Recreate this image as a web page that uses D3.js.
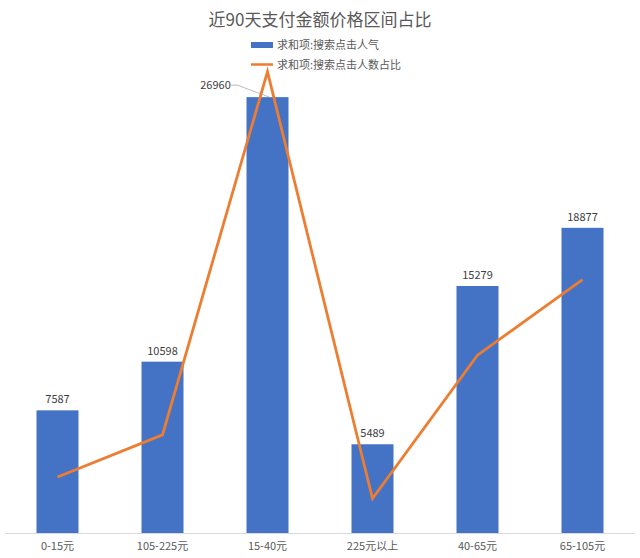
<!DOCTYPE html>
<html>
<head>
<meta charset="utf-8">
<script src="https://cdn.jsdelivr.net/npm/d3@7"></script>
<style>
	body { margin: 0; background: #fff; }
	text { font-family: "Noto Sans CJK SC", "Microsoft YaHei", sans-serif; }
</style>
</head>
<body>
<div class="container"></div>
<script>

var categories = ["0-15元", "105-225元", "15-40元", "225元以上", "40-65元", "65-105元"];
var clicks = [7587, 10598, 26960, 5489, 15279, 18877]; // 求和项:搜索点击人气
var clickShare = [0.052, 0.091, 0.428, 0.032, 0.165, 0.235]; // 求和项:搜索点击人数占比
var seriesNames = ["求和项:搜索点击人气", "求和项:搜索点击人数占比"];
var title = "近90天支付金额价格区间占比";

var W = 640, H = 558;
var base = 533, top_ = 48;

function makeStage(w, h) {
	var stage = d3.select(".container")
				  .insert("svg")
				  .attr("width", w)
				  .attr("height", h);
	return stage;
}

var stage = makeStage(W, H);

var x = d3.scaleBand()
		  .domain(categories)
		  .range([5, 635])
		  .paddingInner(0.6)
		  .paddingOuter(0.3);

var y = d3.scaleLinear().domain([0, 30000]).range([base, top_]);
var y2 = d3.scaleLinear().domain([0, 0.45]).range([base, top_]);

// title
stage.append("text")
	 .attr("x", W / 2)
	 .attr("y", 26)
	 .attr("text-anchor", "middle")
	 .style("font-size", "17px")
	 .style("fill", "#595959")
	 .text(title);

// bars
stage.selectAll("rect.bar")
	 .data(clicks)
	 .enter()
	 .append("rect")
	 .attr("class", "bar")
	 .attr("x", function (d, i) { return x(categories[i]); })
	 .attr("y", function (d) { return y(d); })
	 .attr("width", x.bandwidth())
	 .attr("height", function (d) { return base - y(d); })
	 .style("fill", "#4472C4");

// x axis
var xAxis = stage.append("g")
				 .attr("transform", "translate(0," + base + ")")
				 .call(d3.axisBottom(x).tickSize(0).tickPadding(9));
xAxis.select(".domain").attr("stroke", "#D9D9D9").attr("d", "M5,0.5H635");
xAxis.selectAll("text")
	 .style("font-size", "11px")
	 .style("fill", "#595959")
	 .style("font-family", "\"Noto Sans CJK SC\", sans-serif");

// line
var line = d3.line()
			 .x(function (d, i) { return x(categories[i]) + x.bandwidth() / 2; })
			 .y(function (d) { return y2(d); });

stage.append("path")
	 .datum(clickShare)
	 .attr("d", line)
	 .style("fill", "none")
	 .style("stroke", "#ED7D31")
	 .style("stroke-width", "2.8px");

// data labels
stage.selectAll("text.lbl")
	 .data(clicks)
	 .enter()
	 .append("text")
	 .attr("class", "lbl")
	 .attr("x", function (d, i) {
		 var cx = x(categories[i]) + x.bandwidth() / 2;
		 return i == 2 ? cx - 52 : cx;
	 })
	 .attr("y", function (d, i) { return i == 2 ? y(d) - 8 : y(d) - 7; })
	 .attr("text-anchor", "middle")
	 .style("font-size", "11px")
	 .style("fill", "#404040")
	 .text(function (d) { return d; });

// leader line for the 26960 label
var lx = x(categories[2]) + x.bandwidth() / 2;
stage.append("path")
	 .attr("d", "M" + (lx - 37) + "," + (y(clicks[2]) - 12) + "L" + (lx - 30) + "," + (y(clicks[2]) - 12) + "L" + (lx + 2) + "," + y(clicks[2]))
	 .style("fill", "none")
	 .style("stroke", "#A6A6A6")
	 .style("stroke-width", "0.75px");

// legend
var legend = stage.append("g").attr("transform", "translate(251,0)");
legend.append("rect")
	  .attr("x", 0).attr("y", 42)
	  .attr("width", 22).attr("height", 6)
	  .style("fill", "#4472C4");
legend.append("line")
	  .attr("x1", 0).attr("x2", 22)
	  .attr("y1", 64.5).attr("y2", 64.5)
	  .style("stroke", "#ED7D31")
	  .style("stroke-width", "2.5px");
legend.selectAll("text.leg")
	  .data(seriesNames)
	  .enter()
	  .append("text")
	  .attr("class", "leg")
	  .attr("x", 26)
	  .attr("y", function (d, i) { return 49 + i * 19.5; })
	  .style("font-size", "11px")
	  .style("fill", "#595959")
	  .text(function (d) { return d; });

</script>
</body>
</html>
